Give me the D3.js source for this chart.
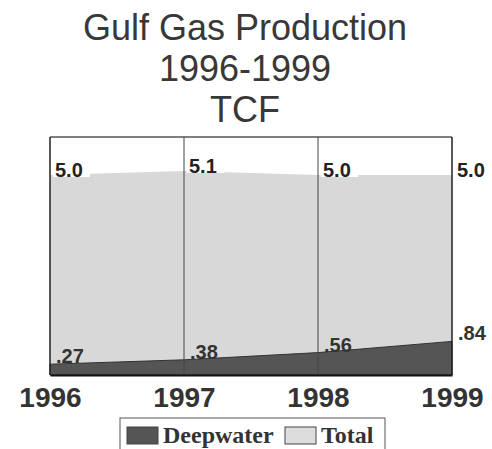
<!DOCTYPE html>
<head>
  <meta charset="utf-8">
  <script src="https://d3js.org/d3.v7.min.js"></script>
  <style>
    body { margin: 0; background: #fff; }
    * { font-family: "Liberation Sans", Arial, sans-serif; }
  </style>
</head>
<body>
<div id="my_dataviz"></div>
<script>

// data
var years = [1996, 1997, 1998, 1999];
var total = [5.0, 5.1, 5.0, 5.0];
var deepwater = [0.27, 0.38, 0.56, 0.84];
var totalLabels = ["5.0", "5.1", "5.0", "5.0"];
var deepLabels = [".27", ".38", ".56", ".84"];
var titleLines = ["Gulf Gas Production", "1996-1999", "TCF"];
var legendNames = ["Deepwater", "Total"];

var W = 492, H = 449;
var margin = {top: 137, right: 40, bottom: 74, left: 50},
    width = W - margin.left - margin.right,
    height = H - margin.top - margin.bottom;

var svg = d3.select("#my_dataviz")
  .append("svg")
    .attr("width", W)
    .attr("height", H);

// title
svg.append("g")
  .selectAll("text")
  .data(titleLines)
  .enter()
  .append("text")
    .attr("x", 245)
    .attr("y", function(d, i) { return 40 + i * 41; })
    .attr("text-anchor", "middle")
    .style("font-size", "36px")
    .style("fill", "#383838")
    .text(function(d) { return d; });

var g = svg.append("g")
  .attr("transform", "translate(" + margin.left + "," + margin.top + ")");

var data = years.map(function(y, i) {
  return {year: y, total: total[i], deep: deepwater[i]};
});

var x = d3.scaleLinear()
  .domain(d3.extent(years))
  .range([0, width]);

var y = d3.scaleLinear()
  .domain([0, 5.95])
  .range([height, 0]);

// areas
var areaTotal = d3.area()
  .x(function(d) { return x(d.year); })
  .y0(y(0))
  .y1(function(d) { return y(d.total); });

var areaDeep = d3.area()
  .x(function(d) { return x(d.year); })
  .y0(y(0))
  .y1(function(d) { return y(d.deep); });

g.append("path")
  .datum(data)
  .attr("fill", "#d8d8d8")
  .attr("d", areaTotal);

g.append("path")
  .datum(data)
  .attr("fill", "#555")
  .attr("stroke", "#333")
  .attr("stroke-width", 1)
  .attr("d", areaDeep);

// top border
g.append("line")
  .attr("x1", 0).attr("x2", width)
  .attr("y1", 0).attr("y2", 0)
  .attr("stroke", "#555")
  .attr("stroke-width", 1.5);

// vertical lines at each year
g.selectAll(".vline")
  .data(years)
  .enter()
  .append("line")
    .attr("class", "vline")
    .attr("x1", function(d) { return x(d); })
    .attr("x2", function(d) { return x(d); })
    .attr("y1", 0)
    .attr("y2", height)
    .attr("stroke", function(d, i) { return (i == 0 || i == years.length - 1) ? "#222" : "#444"; })
    .attr("stroke-width", function(d, i) { return (i == 0 || i == years.length - 1) ? 1.5 : 1; });

// x axis
var xAxis = g.append("g")
  .attr("transform", "translate(0," + height + ")")
  .call(d3.axisBottom(x).tickValues(years).tickSize(0).tickPadding(12).tickFormat(d3.format("d")));
xAxis.select(".domain").attr("stroke", "#111").attr("stroke-width", 2);
xAxis.selectAll("text")
  .attr("dy", "0.71em")
  .attr("y", 12)
  .style("font-size", "28px")
  .style("font-weight", "bold")
  .style("fill", "#333")
  .style("font-family", "'Liberation Sans', Arial, sans-serif");

// total value labels with white backing
var tl = g.selectAll(".tlab")
  .data(data)
  .enter()
  .append("g")
    .attr("class", "tlab")
    .attr("transform", function(d) { return "translate(" + (x(d.year) + 5) + "," + (y(d.total) + 2) + ")"; });
tl.append("rect")
  .attr("x", -2).attr("y", -17)
  .attr("width", 37).attr("height", 17)
  .attr("fill", "#fff");
tl.append("text")
  .style("font-size", "20px")
  .style("font-weight", "bold")
  .style("fill", "#222")
  .text(function(d, i) { return totalLabels[i]; });

// deepwater value labels
g.selectAll(".dlab")
  .data(data)
  .enter()
  .append("text")
    .attr("class", "dlab")
    .attr("x", function(d) { return x(d.year) + 6; })
    .attr("y", function(d) { return y(d.deep) - 1; })
    .style("font-size", "20px")
    .style("font-weight", "bold")
    .style("fill", "#333")
    .text(function(d, i) { return deepLabels[i]; });

// legend
var leg = svg.append("g").attr("transform", "translate(120,418)");
leg.append("rect")
  .attr("width", 265).attr("height", 40)
  .attr("fill", "#fff")
  .attr("stroke", "#555")
  .attr("stroke-width", 1);
var legColors = ["#555", "#ddd"];
var legX = [7, 165];
var items = leg.selectAll(".item")
  .data(legendNames)
  .enter()
  .append("g")
    .attr("transform", function(d, i) { return "translate(" + legX[i] + ",0)"; });
items.append("rect")
  .attr("y", 9).attr("width", 31).attr("height", 17)
  .attr("fill", function(d, i) { return legColors[i]; })
  .attr("stroke", "#444")
  .attr("stroke-width", 1);
items.append("text")
  .attr("x", 36).attr("y", 25)
  .style("font-family", "'Liberation Serif', 'Times New Roman', serif")
  .style("font-size", "24px")
  .style("font-weight", "bold")
  .style("fill", "#333")
  .text(function(d) { return d; });

</script>
</body>
</html>
